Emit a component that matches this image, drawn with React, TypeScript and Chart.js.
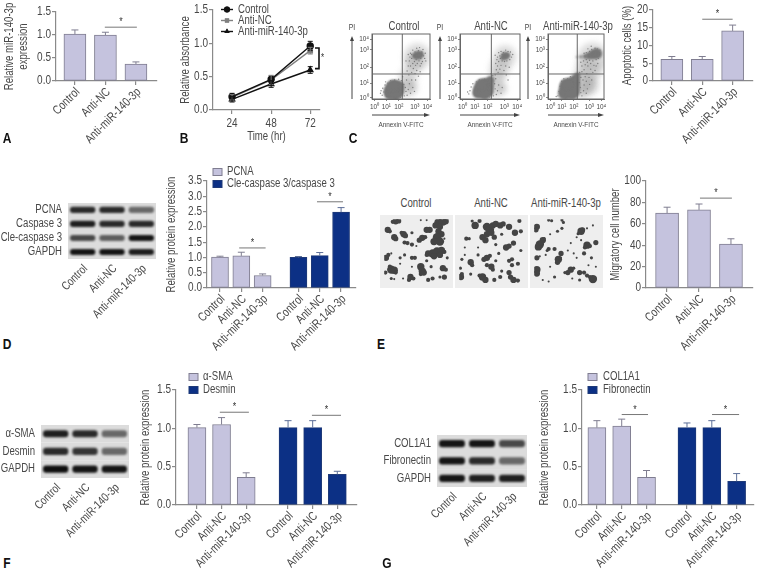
import React, { useEffect, useRef } from "react";
import { Chart, registerables } from "chart.js";
import { drawPoint } from "chart.js/helpers";

Chart.register(...registerables);

const FONT = '"Liberation Sans",Arial,sans-serif';
const NARROW = 0.8;
const INK = "#484848";
const AXIS = "#8a8a8a";
const LILAC = "#c5c3de";
const LILAC_EDGE = "#7f7d90";
const NAVY = "#0c3085";
const NAVY_EDGE = "#1f3a78";

// ---------- data ----------
const groups = ["Control", "Anti-NC", "Anti-miR-140-3p"];
const twoGroups = [...groups, ...groups];

const aValues = [1.02, 1.0, 0.37];
const aErrors = [0.09, 0.06, 0.045];

const hours = [24, 48, 72];
const bControl = [0.2, 0.46, 0.96];
const bControlErr = [0.05, 0.05, 0.07];
const bNC = [0.19, 0.45, 0.89];
const bNCErr = [0.04, 0.07, 0.05];
const bMiR = [0.16, 0.39, 0.6];
const bMiRErr = [0.04, 0.05, 0.05];

const cValues = [6.1, 6.1, 14.1];
const cErrors = [0.8, 0.8, 1.65];

const dPCNA = [1.01, 1.05, 0.41];
const dPCNAErr = [0.03, 0.12, 0.05];
const dCle = [1.0, 1.06, 2.48];
const dCleErr = [0.03, 0.1, 0.15];

const eValues = [70, 73, 41];
const eErrors = [5.5, 5.5, 5];

const fSMA = [1.01, 1.05, 0.36];
const fSMAErr = [0.04, 0.09, 0.06];
const fDesmin = [1.01, 1.01, 0.4];
const fDesminErr = [0.09, 0.09, 0.04];

const gCOL = [1.01, 1.03, 0.36];
const gCOLErr = [0.09, 0.09, 0.09];
const gFib = [1.01, 1.01, 0.31];
const gFibErr = [0.06, 0.09, 0.1];

const blotDRows = ["PCNA", "Caspase 3", "Cle-caspase 3", "GAPDH"];
const blotDDensity = [[0.85, 0.85, 0.55], [0.9, 0.85, 0.85], [0.7, 0.6, 0.95], [0.95, 0.95, 0.9]];
const blotFRows = ["α-SMA", "Desmin", "GAPDH"];
const blotFDensity = [[0.9, 0.85, 0.55], [0.85, 0.8, 0.55], [0.98, 0.95, 0.95]];
const blotGRows = ["COL1A1", "Fibronectin", "GAPDH"];
const blotGDensity = [[0.95, 0.95, 0.7], [0.95, 0.85, 0.55], [0.95, 0.9, 0.9]];

const flowTicks = ["10⁰", "10¹", "10²", "10³", "10⁴"];

const flowControlHalo = [[800,670,13],[740,560,9],[640,350,9],[590,170,9],[700,180,6]];
const flowControlCore = [[394,144,9.5],[440,190,6.5],[330,120,7],[450,110,6],[300,70,4.5],[420,70,5],[500,210,3.5],[370,210,6],[814,688,4.5],[760,680,3],[860,700,3]];
const flowControlDots = [[180,60],[210,110],[190,170],[230,220],[260,40],[280,250],[330,290],[380,30],[400,300],[470,310],[520,290],[560,230],[590,180],[600,120],[620,60],[570,50],[640,150],[660,240],[610,300],[540,350],[500,25],[160,130],[150,90],[240,270],[680,90],[720,180],[700,300],[750,120],[650,380],[700,420],[620,440],[730,480],[680,520],[760,400],[790,450],[640,520],[820,360],[770,300],[850,430],[600,600],[660,600],[640,700],[680,720],[700,640],[720,770],[750,590],[760,740],[780,620],[800,560],[790,800],[820,760],[830,600],[850,520],[860,640],[880,740],[890,590],[910,680],[900,780],[930,640],[740,680],[700,700],[670,660],[840,810],[770,530],[720,560],[870,560],[950,600],[940,720]];
const flowNCHalo = [[770,670,11],[680,500,10],[640,350,8],[600,170,9],[720,160,5]];
const flowNCCore = [[400,173,9.5],[460,220,7],[340,130,7],[470,120,6],[300,90,5],[420,80,5.5],[520,300,4],[370,230,5.5],[768,677,4],[810,690,2.5],[725,650,2.2]];
const flowNCDots = [[150,80],[170,130],[190,190],[220,240],[260,60],[280,270],[330,300],[380,35],[420,310],[560,370],[590,240],[600,160],[620,70],[570,50],[640,130],[660,220],[610,320],[530,400],[500,30],[130,110],[700,90],[720,180],[600,380],[650,420],[620,460],[680,470],[640,520],[700,530],[610,560],[660,590],[720,600],[750,450],[780,520],[690,640],[640,660],[600,690],[660,730],[700,750],[740,730],[780,770],[820,750],[860,740],[880,660],[850,620],[800,600],[760,590],[900,700],[720,700],[680,680],[630,620],[790,380],[820,300],[840,500]];
const flowMiRHalo = [[820,650,15],[740,450,13],[650,260,12],[780,200,8],[620,130,8]];
const flowMiRCore = [[390,170,10.5],[470,260,6.5],[510,330,4],[300,90,6.5],[450,100,6.5],[330,230,5.5],[540,380,2.5],[890,715,5.5],[820,700,4.5],[750,680,3.5],[680,670,2.4],[600,665,1.5],[530,662,1]];
const flowMiRDots = [[180,50],[200,120],[220,200],[250,280],[290,320],[150,40],[360,320],[410,350],[570,260],[590,180],[600,100],[620,50],[650,130],[660,220],[640,300],[700,90],[720,160],[760,230],[700,280],[680,350],[600,340],[580,420],[620,430],[660,460],[710,400],[750,340],[800,300],[820,420],[780,470],[730,520],[680,540],[620,520],[600,580],[650,600],[700,620],[760,610],[820,600],[880,620],[920,640],[940,700],[950,770],[900,790],[860,800],[800,780],[760,750],[700,730],[660,720],[840,530],[880,520],[860,450],[910,560],[780,560],[720,580],[790,830],[730,790]];

const micrographControl = [[45,16,3],[35,18,2],[55,15,2.5],[150,12,1],[130,12,1],[190,20,4],[205,17,4],[215,16,3],[180,30,3],[195,35,3],[190,50,3],[200,60,3],[185,70,4],[195,85,4],[175,85,3.5],[160,45,3],[150,45,3],[18,45,3],[25,50,2],[40,70,3],[45,75,2.5],[65,55,2],[72,60,3],[78,65,2.5],[100,55,1.5],[125,80,2.5],[135,72,3],[145,70,2],[100,95,2],[85,90,2],[75,88,2],[115,100,1],[210,75,1],[170,125,4],[185,118,4],[200,115,3.5],[155,125,3],[195,130,3],[175,135,3],[150,130,2],[210,120,2],[100,140,2],[110,140,2],[20,130,2],[12,140,3],[30,125,1],[60,140,1.5],[75,130,1.5],[30,180,4],[40,182,3.5],[25,170,2],[45,190,2],[130,170,3.5],[135,185,3.5],[130,195,2],[140,190,3],[95,205,3],[90,215,2],[105,210,2],[30,210,1.5],[40,212,1],[205,175,3],[215,180,2],[210,205,2.5],[195,205,1.5],[170,210,2],[155,215,2],[165,170,1.5],[70,210,1],[60,160,1],[100,170,1],[10,190,2],[150,150,1.5],[220,140,1.5]];
const micrographNC = [[60,30,3.5],[75,15,2],[50,15,1.5],[100,35,4],[110,45,4],[120,30,3],[130,25,3],[145,30,3],[155,25,2.5],[175,35,3],[195,55,3],[210,15,2],[215,50,2],[100,60,3],[85,70,3],[95,80,3],[115,55,3],[125,70,2.5],[165,105,3],[175,100,2.5],[190,90,2.5],[130,95,1.5],[30,75,2],[40,75,1.5],[150,60,1.5],[25,130,1],[70,130,1.5],[100,140,3],[90,145,2.5],[110,133,2],[45,155,3],[50,165,2],[15,145,1.5],[185,145,2],[175,150,2],[185,165,2],[205,160,2],[100,165,2],[115,170,3],[130,150,1.5],[120,180,2],[150,185,1.5],[10,175,1.5],[12,205,3],[15,195,2],[85,205,3.5],[95,215,3],[75,200,2],[125,215,2],[145,205,2],[175,190,2.5],[180,205,2.5],[190,215,3],[205,217,2],[45,195,1.5],[215,115,1.5],[25,105,1],[70,105,1],[140,125,1.5]];
const micrographMiR = [[15,35,3],[12,45,2.5],[55,12,1.5],[65,14,1.5],[100,12,1.5],[105,20,1.5],[100,40,1.5],[85,50,1.5],[165,50,3.5],[170,45,2.5],[155,58,1.5],[185,40,1],[205,30,1],[25,95,4],[20,103,3.5],[35,80,3],[30,90,2.5],[40,75,1.5],[60,60,1],[75,110,2],[55,110,2],[50,115,1.5],[185,97,3.5],[178,105,2],[195,100,2],[215,88,2.5],[165,80,1],[150,70,1],[130,90,1],[120,115,1],[140,125,1],[97,125,2.5],[88,145,3.5],[85,155,2.5],[95,140,1.5],[15,140,2.5],[25,135,1],[45,130,1],[175,125,2],[200,140,1.5],[150,140,1],[15,180,3.5],[15,193,3],[130,180,3],[120,190,2.5],[140,175,1.5],[110,190,1.5],[160,190,2.5],[175,190,2],[185,200,2],[205,212,4],[195,205,2],[75,205,1.5],[35,215,1],[55,220,1],[135,210,1],[160,215,1.5],[215,170,1],[190,165,1],[60,170,1]];

// ---------- layout helpers ----------
type Rect = { left: number; top: number; right: number; bottom: number };
type Made = { rect: Rect; config: any };

const font = (size: number, weight = "normal") => ({ family: FONT, size, weight, lineHeight: 1.15 });

const pad = (p: Rect, c: Rect) => ({
  left: 0,
  top: p.top - c.top,
  right: c.right - p.right,
  bottom: 0,
});

// The reference is set in a condensed face, which is not installed: squeeze text on this context.
function condense(ctx: any) {
  const fill = ctx.fillText.bind(ctx);
  const measure = ctx.measureText.bind(ctx);
  ctx.fillText = (s: string, x: number, y: number) => {
    ctx.save();
    ctx.translate(x, y);
    ctx.scale(NARROW, 1);
    fill(s, 0, 0);
    ctx.restore();
  };
  ctx.measureText = (s: string) => {
    const m = measure(s);
    return { width: m.width * NARROW, actualBoundingBoxAscent: m.actualBoundingBoxAscent, actualBoundingBoxDescent: m.actualBoundingBoxDescent };
  };
}

function valueAxis(min: number, max: number, step: number, digits: number, title: any, width: number, size = 12.5, titlePad = 0) {
  return {
    type: "linear",
    min,
    max,
    afterFit: (s: any) => { s.width = width; },
    afterBuildTicks: (s: any) => {
      const t = [];
      for (let i = 0; i <= Math.round((max - min) / step); i++) t.push({ value: min + i * step });
      s.ticks = t;
    },
    border: { color: AXIS, width: 1.2 },
    grid: { drawOnChartArea: false, drawTicks: true, tickLength: 4, color: AXIS, lineWidth: 1.2 },
    ticks: { color: INK, font: font(size), padding: 1, autoSkip: false, callback: (v: number) => v.toFixed(digits) },
    title: { display: true, text: title, color: INK, font: font(12), padding: { top: titlePad, bottom: 0 } },
  };
}

function slotAxis(slots: number[], labels: string[], min: number, max: number, height: number) {
  return {
    type: "linear",
    min,
    max,
    offset: false,
    afterFit: (s: any) => { s.height = height; },
    afterBuildTicks: (s: any) => { s.ticks = slots.map((value) => ({ value })); },
    border: { color: AXIS, width: 1.2 },
    grid: { drawOnChartArea: false, offset: false, drawTicks: true, tickLength: 4, color: AXIS, lineWidth: 1.2 },
    ticks: {
      color: INK,
      font: font(12.5),
      padding: 0,
      labelOffset: 3,
      autoSkip: false,
      minRotation: 45,
      maxRotation: 45,
      callback: (v: number) => labels[slots.indexOf(v)],
    },
  };
}

const errorBars = {
  id: "errorBars",
  afterDatasetsDraw(chart: any) {
    const { ctx } = chart;
    const y = chart.scales.y;
    const x = chart.scales.x;
    chart.data.datasets.forEach((d: any) => {
      if (!d.errors) return;
      ctx.save();
      ctx.strokeStyle = d.errorColor;
      ctx.lineWidth = d.errorWidth || 1;
      d.data.forEach((p: any, i: number) => {
        const px = x.getPixelForValue(p.x);
        const top = y.getPixelForValue(p.y + d.errors[i]);
        const bot = d.errorBoth ? y.getPixelForValue(p.y - d.errors[i]) : y.getPixelForValue(p.y);
        const cap = d.errorCap || 3.5;
        ctx.beginPath();
        ctx.moveTo(px, bot);
        ctx.lineTo(px, top);
        ctx.moveTo(px - cap, top);
        ctx.lineTo(px + cap, top);
        if (d.errorBoth) {
          ctx.moveTo(px - cap, bot);
          ctx.lineTo(px + cap, bot);
        }
        ctx.stroke();
      });
      ctx.restore();
    });
  },
};

const sigMarks = (marks: number[][]) => ({
  id: "sigMarks",
  afterDatasetsDraw(chart: any) {
    const { ctx } = chart;
    const { x, y } = chart.scales;
    ctx.save();
    marks.forEach(([from, to, value]) => {
      const py = y.getPixelForValue(value);
      const a = x.getPixelForValue(from);
      const b = x.getPixelForValue(to);
      ctx.strokeStyle = "#777";
      ctx.lineWidth = 1;
      ctx.beginPath();
      ctx.moveTo(a, py);
      ctx.lineTo(b, py);
      ctx.stroke();
      ctx.fillStyle = "#333";
      ctx.font = `11px ${FONT}`;
      ctx.textAlign = "center";
      ctx.textBaseline = "middle";
      ctx.fillText("*", (a + b) / 2, py - 5);
    });
    ctx.restore();
  },
});

const swatchLegend = (dx: number, dy: number[], tx: number) => ({
  id: "swatchLegend",
  afterDraw(chart: any) {
    const { ctx } = chart;
    ctx.save();
    chart.data.datasets.forEach((d: any, i: number) => {
      ctx.fillStyle = d.backgroundColor;
      ctx.strokeStyle = d.borderColor;
      ctx.lineWidth = 1;
      ctx.fillRect(dx, dy[i] - 3.5, 9, 7);
      ctx.strokeRect(dx, dy[i] - 3.5, 9, 7);
      ctx.fillStyle = INK;
      ctx.font = `12px ${FONT}`;
      ctx.textBaseline = "middle";
      ctx.textAlign = "left";
      ctx.fillText(d.label, tx, dy[i]);
    });
    ctx.restore();
  },
});

function barPanel(o: {
  plot: Rect; canvas: Rect; slots: number[]; labels: string[]; min: number; max: number; thickness: number;
  yMax: number; step: number; digits: number; title: any; titlePad?: number;
  series: { label?: string; values: number[]; errors: number[]; navy?: boolean }[];
  marks: number[][]; legend?: { dx: number; dy: number[]; tx: number };
}): Made {
  let k = 0;
  const datasets = o.series.map((s) => ({
    label: s.label,
    data: s.values.map((v) => ({ x: o.slots[k++], y: v })),
    backgroundColor: s.navy ? NAVY : LILAC,
    borderColor: s.navy ? NAVY_EDGE : LILAC_EDGE,
    borderWidth: 1,
    borderSkipped: false,
    barThickness: o.thickness,
    grouped: false,
    errors: s.errors,
    errorColor: s.navy ? "#5d6f98" : LILAC_EDGE,
  }));
  const plugins: any[] = [errorBars, sigMarks(o.marks)];
  if (o.legend) plugins.push(swatchLegend(o.legend.dx, o.legend.dy, o.legend.tx));
  return {
    rect: o.canvas,
    config: {
      type: "bar",
      data: { datasets },
      plugins,
      options: {
        responsive: false,
        animation: false,
        layout: { padding: pad(o.plot, o.canvas) },
        plugins: { legend: { display: false }, tooltip: { enabled: false } },
        scales: {
          x: slotAxis(o.slots, o.labels, o.min, o.max, o.canvas.bottom - o.plot.bottom),
          y: valueAxis(0, o.yMax, o.step, o.digits, o.title, o.plot.left - o.canvas.left, 12.5, o.titlePad || 0),
        },
      },
    },
  };
}

const bandBlur = {
  id: "bandBlur",
  beforeDatasetDraw(chart: any, args: any) {
    chart.ctx.save();
    chart.ctx.filter = args.index === 0 ? "none" : "blur(1.3px)";
  },
  afterDatasetDraw(chart: any) {
    chart.ctx.restore();
  },
};

function blotPanel(plot: Rect, canvas: Rect, rows: string[], density: number[][], rowHeight: number, band: number): Made {
  const datasets: any[] = [
    {
      data: rows.map(() => [0, 3]),
      backgroundColor: "#dcdcdc",
      barThickness: rowHeight,
      grouped: false,
      order: 2,
    },
  ];
  groups.forEach((_, lane) => {
    datasets.push({
      data: rows.map(() => [lane + 0.08, lane + 0.92]),
      backgroundColor: density.map((r) => `rgba(10,10,10,${r[lane]})`),
      barThickness: band,
      borderRadius: 3,
      borderSkipped: false,
      grouped: false,
      order: 1,
    });
  });
  return {
    rect: canvas,
    config: {
      type: "bar",
      data: { labels: rows, datasets },
      plugins: [bandBlur],
      options: {
        indexAxis: "y",
        responsive: false,
        animation: false,
        layout: { padding: pad(plot, canvas) },
        plugins: { legend: { display: false }, tooltip: { enabled: false } },
        scales: {
          x: (() => {
            const a: any = slotAxis([0.5, 1.5, 2.5], groups, 0, 3, canvas.bottom - plot.bottom);
            a.border = { display: false };
            a.grid = { display: false, drawTicks: false };
            a.ticks.padding = 3;
            a.ticks.font = font(12);
            return a;
          })(),
          y: {
            type: "category",
            afterFit: (s: any) => { s.width = plot.left - canvas.left; },
            border: { display: false },
            grid: { display: false, drawTicks: false },
            ticks: { color: INK, font: font(12), padding: 6, autoSkip: false },
          },
        },
      },
    },
  };
}

const flowFrame = {
  id: "flowFrame",
  beforeDatasetDraw(chart: any, args: any) {
    chart.ctx.save();
    chart.ctx.filter = args.index === 2 ? "blur(3px)" : args.index === 0 ? "blur(1px)" : "none";
  },
  afterDatasetDraw(chart: any) {
    chart.ctx.restore();
  },
  afterDraw(chart: any) {
    const { ctx, chartArea: a } = chart;
    const { x, y } = chart.scales;
    const gx = x.getPixelForValue(535);
    const gy = y.getPixelForValue(394);
    ctx.save();
    ctx.strokeStyle = "#666";
    ctx.lineWidth = 1;
    ctx.strokeRect(a.left, a.top, a.right - a.left, a.bottom - a.top);
    ctx.beginPath();
    ctx.moveTo(gx, a.top);
    ctx.lineTo(gx, a.bottom);
    ctx.moveTo(a.left, gy);
    ctx.lineTo(a.right, gy);
    ctx.stroke();
    // PI arrow
    const ax = a.left - 20;
    ctx.strokeStyle = "#444";
    ctx.fillStyle = "#444";
    ctx.beginPath();
    ctx.moveTo(ax, a.bottom);
    ctx.lineTo(ax, a.top + 4);
    ctx.stroke();
    ctx.beginPath();
    ctx.moveTo(ax - 2, a.top + 7);
    ctx.lineTo(ax + 2, a.top + 7);
    ctx.lineTo(ax, a.top + 2);
    ctx.fill();
    ctx.font = `8.5px ${FONT}`;
    ctx.textAlign = "center";
    ctx.textBaseline = "middle";
    ctx.fillText("PI", ax, a.top - 6);
    // Annexin arrow
    const ay = a.bottom + 16;
    ctx.beginPath();
    ctx.moveTo(a.left, ay);
    ctx.lineTo(a.right - 3, ay);
    ctx.stroke();
    ctx.beginPath();
    ctx.moveTo(a.right - 6, ay - 2);
    ctx.lineTo(a.right - 6, ay + 2);
    ctx.lineTo(a.right, ay);
    ctx.fill();
    ctx.restore();
  },
};

function flowAxis(axis: "x" | "y", ticks: number[], size: number, title?: string) {
  return {
    type: "linear",
    min: 0,
    max: 1024,
    afterFit: (s: any) => { if (axis === "x") s.height = size; else s.width = size; },
    afterBuildTicks: (s: any) => { s.ticks = ticks.map((value) => ({ value })); },
    border: { color: "#666", width: 1 },
    grid: { drawOnChartArea: false, drawTicks: true, tickLength: 2, color: "#666", lineWidth: 0.8 },
    ticks: {
      color: INK,
      font: font(8),
      padding: 1,
      autoSkip: false,
      maxRotation: 0,
      minRotation: 0,
      callback: (v: number) => flowTicks[ticks.indexOf(v)],
    },
    title: title ? { display: true, text: title, color: INK, font: font(8), padding: { top: 0, bottom: 0 } } : { display: false },
  };
}

function flowPanel(plotLeft: number, halo: number[][], core: number[][], dots: number[][]): Made {
  const plot = { left: plotLeft, top: 34, right: plotLeft + 65, bottom: 99 };
  const canvas = { left: plotLeft - 27, top: 18, right: plotLeft + 71, bottom: 129 };
  return {
    rect: canvas,
    config: {
      type: "bubble",
      data: {
        datasets: [
          { data: core.map(([x, y, r]) => ({ x, y, r })), backgroundColor: "#767676", borderWidth: 0 },
          { data: dots.map(([x, y]) => ({ x, y, r: 0.7 })), backgroundColor: "rgba(105,105,105,0.8)", borderWidth: 0 },
          { data: halo.map(([x, y, r]) => ({ x, y, r })), backgroundColor: "rgba(130,130,130,0.3)", borderWidth: 0 },
        ],
      },
      plugins: [flowFrame],
      options: {
        responsive: false,
        animation: false,
        layout: { padding: pad(plot, canvas) },
        plugins: { legend: { display: false }, tooltip: { enabled: false } },
        scales: {
          x: flowAxis("x", [47, 252, 473, 756, 977], canvas.bottom - plot.bottom, "Annexin V-FITC"),
          y: flowAxis("y", [16, 252, 504, 772, 945], plot.left - canvas.left),
        },
      },
    },
  };
}

function micrographPanel(left: number, blobs: number[][]): Made {
  const canvas = { left, top: 215, right: left + 73, bottom: 288 };
  const plug = {
    id: "softEdge",
    beforeDatasetsDraw(c: any) { c.ctx.save(); c.ctx.filter = "blur(0.7px)"; },
    afterDatasetsDraw(c: any) { c.ctx.restore(); },
    beforeDraw(c: any) { c.ctx.save(); c.ctx.fillStyle = "#eeeeee"; c.ctx.fillRect(0, 0, c.width, c.height); c.ctx.restore(); },
  };
  return {
    rect: canvas,
    config: {
      type: "bubble",
      data: { datasets: [{ data: blobs.map(([x, y, r]) => ({ x, y, r: r * 1.05 })), backgroundColor: "#444", borderWidth: 0 }] },
      plugins: [plug],
      options: {
        responsive: false,
        animation: false,
        layout: { padding: 0 },
        plugins: { legend: { display: false }, tooltip: { enabled: false } },
        scales: {
          x: { type: "linear", display: false, min: 6, max: 225 },
          y: { type: "linear", display: false, min: 9, max: 228, reverse: true },
        },
      },
    },
  };
}

function linePanel(): Made {
  const plot = { left: 213, top: 10, right: 320, bottom: 110 };
  const canvas = { left: 179, top: 0, right: 335, bottom: 144 };
  const series = [
    { label: "Control", values: bControl, errors: bControlErr, style: "circle", color: "#111" },
    { label: "Anti-NC", values: bNC, errors: bNCErr, style: "rect", color: "#808080" },
    { label: "Anti-miR-140-3p", values: bMiR, errors: bMiRErr, style: "triangle", color: "#111" },
  ];
  const datasets = series.map((s) => ({
    label: s.label,
    data: s.values.map((v, i) => ({ x: hours[i], y: v })),
    borderColor: s.color,
    backgroundColor: s.color,
    borderWidth: 1.4,
    tension: 0,
    pointStyle: s.style,
    pointRadius: 3,
    errors: s.errors,
    errorColor: s.color,
    errorBoth: true,
    errorCap: 2.5,
  }));
  const legendAndBracket = {
    id: "legendAndBracket",
    afterDraw(chart: any) {
      const { ctx } = chart;
      const ys = [9.5, 20.5, 31.5];
      ctx.save();
      chart.data.datasets.forEach((d: any, i: number) => {
        ctx.strokeStyle = d.borderColor;
        ctx.fillStyle = d.borderColor;
        ctx.lineWidth = 1.4;
        ctx.beginPath();
        ctx.moveTo(221 - canvas.left, ys[i]);
        ctx.lineTo(233 - canvas.left, ys[i]);
        ctx.stroke();
        drawPoint(ctx, { pointStyle: d.pointStyle, radius: 3, rotation: 0, borderWidth: 0 }, 227 - canvas.left, ys[i]);
        ctx.fill();
        ctx.fillStyle = INK;
        ctx.font = `12px ${FONT}`;
        ctx.textAlign = "left";
        ctx.textBaseline = "middle";
        ctx.fillText(d.label, 238 - canvas.left, ys[i]);
      });
      const bx = chart.chartArea.right - 1;
      const t = chart.scales.y.getPixelForValue(0.93);
      const b = chart.scales.y.getPixelForValue(0.62);
      ctx.strokeStyle = "#111";
      ctx.lineWidth = 1.6;
      ctx.beginPath();
      ctx.moveTo(bx - 4, t);
      ctx.lineTo(bx, t);
      ctx.lineTo(bx, b);
      ctx.lineTo(bx - 4, b);
      ctx.stroke();
      ctx.fillStyle = "#333";
      ctx.font = `10px ${FONT}`;
      ctx.textAlign = "center";
      ctx.fillText("*", bx + 3.5, (t + b) / 2);
      ctx.restore();
    },
  };
  const xAxis: any = {
    type: "linear",
    min: 12.3,
    max: 78,
    afterFit: (s: any) => { s.height = canvas.bottom - plot.bottom; },
    afterBuildTicks: (s: any) => { s.ticks = hours.map((value) => ({ value })); },
    border: { color: AXIS, width: 1.2 },
    grid: { drawOnChartArea: false, drawTicks: true, tickLength: 4, color: AXIS, lineWidth: 1.2 },
    ticks: { color: INK, font: font(12.5), padding: 2, maxRotation: 0, minRotation: 0 },
    title: { display: true, text: "Time (hr)", color: INK, font: font(12), padding: { top: 0, bottom: 0 } },
  };
  return {
    rect: canvas,
    config: {
      type: "line",
      data: { datasets },
      plugins: [errorBars, legendAndBracket],
      options: {
        responsive: false,
        animation: false,
        layout: { padding: pad(plot, canvas) },
        plugins: { legend: { display: false }, tooltip: { enabled: false } },
        scales: { x: xAxis, y: valueAxis(0, 1.5, 0.5, 1, "Relative absorbance", plot.left - canvas.left) },
      },
    },
  };
}

const threeSlots = [0, 1, 2];

const panels: Made[] = [
  barPanel({
    plot: { left: 56, top: 12, right: 157, bottom: 81 }, canvas: { left: 0, top: 0, right: 161, bottom: 150 },
    slots: threeSlots, labels: groups, min: -0.62, max: 2.69, thickness: 22, yMax: 1.5, step: 0.5, digits: 1,
    title: ["Relative miR-140-3p", "expression"], titlePad: 3,
    series: [{ values: aValues, errors: aErrors }], marks: [[0.98, 2.03, 1.17]],
  }),
  linePanel(),
  flowPanel(372, flowControlHalo, flowControlCore, flowControlDots),
  flowPanel(460, flowNCHalo, flowNCCore, flowNCDots),
  flowPanel(548, flowMiRHalo, flowMiRCore, flowMiRDots),
  barPanel({
    plot: { left: 653, top: 10, right: 753, bottom: 81 }, canvas: { left: 621, top: 0, right: 757, bottom: 152 },
    slots: threeSlots, labels: groups, min: -0.62, max: 2.67, thickness: 22, yMax: 20, step: 5, digits: 0,
    title: "Apoptotic cells (%)",
    series: [{ values: cValues, errors: cErrors }], marks: [[1.0, 2.0, 17.4]],
  }),
  blotPanel({ left: 68, top: 199, right: 156, bottom: 259 }, { left: 0, top: 190, right: 162, bottom: 325 }, blotDRows, blotDDensity, 13.5, 5.5),
  barPanel({
    plot: { left: 207, top: 181, right: 356, bottom: 288 }, canvas: { left: 165, top: 160, right: 362, bottom: 352 },
    slots: [0, 1, 2, 3.68, 4.68, 5.68], labels: twoGroups, min: -0.61, max: 6.38, thickness: 17, yMax: 3.5, step: 0.5, digits: 1,
    title: "Relative protein expression",
    series: [
      { label: "PCNA", values: dPCNA, errors: dPCNAErr },
      { label: "Cle-caspase 3/caspase 3", values: dCle, errors: dCleErr, navy: true },
    ],
    marks: [[0.9, 2.14, 1.31], [4.55, 5.77, 2.82]], legend: { dx: 48, dy: [12, 24], tx: 62 },
  }),
  micrographPanel(380, micrographControl),
  micrographPanel(455, micrographNC),
  micrographPanel(530, micrographMiR),
  barPanel({
    plot: { left: 646, top: 181, right: 753, bottom: 288 }, canvas: { left: 609, top: 170, right: 757, bottom: 352 },
    slots: threeSlots, labels: groups, min: -0.66, max: 2.69, thickness: 23, yMax: 100, step: 20, digits: 0,
    title: "Migratory cell number",
    series: [{ values: eValues, errors: eErrors }], marks: [[1.03, 2.03, 84]],
  }),
  blotPanel({ left: 41, top: 421, right: 129, bottom: 478 }, { left: 0, top: 412, right: 135, bottom: 548 }, blotFRows, blotFDensity, 17, 6.5),
  barPanel({
    plot: { left: 176, top: 390, right: 357, bottom: 505 }, canvas: { left: 139, top: 370, right: 362, bottom: 569 },
    slots: [0, 1, 2, 3.7, 4.7, 5.7], labels: twoGroups, min: -0.85, max: 6.5, thickness: 18, yMax: 1.5, step: 0.5, digits: 1,
    title: "Relative protein expression",
    series: [
      { label: "α-SMA", values: fSMA, errors: fSMAErr },
      { label: "Desmin", values: fDesmin, errors: fDesminErr, navy: true },
    ],
    marks: [[0.93, 2.11, 1.21], [4.67, 5.85, 1.17]], legend: { dx: 50, dy: [7, 20], tx: 64 },
  }),
  blotPanel({ left: 437, top: 431, right: 527, bottom: 487 }, { left: 380, top: 422, right: 532, bottom: 558 }, blotGRows, blotGDensity, 17, 6.5),
  barPanel({
    plot: { left: 582, top: 390, right: 754, bottom: 505 }, canvas: { left: 538, top: 370, right: 757, bottom: 569 },
    slots: [0, 1, 2, 3.63, 4.63, 5.63], labels: twoGroups, min: -0.6, max: 6.33, thickness: 18, yMax: 1.5, step: 0.5, digits: 1,
    title: "Relative protein expression",
    series: [
      { label: "COL1A1", values: gCOL, errors: gCOLErr },
      { label: "Fibronectin", values: gFib, errors: gFibErr, navy: true },
    ],
    marks: [[1.0, 2.06, 1.18], [4.64, 5.73, 1.18]], legend: { dx: 50, dy: [7, 20], tx: 65 },
  }),
];

const notes: { text: string; x: number; y: number; size: number; bold?: boolean }[] = [
  { text: "A", x: 7, y: 137, size: 15, bold: true },
  { text: "B", x: 184, y: 137, size: 15, bold: true },
  { text: "C", x: 353, y: 137, size: 15, bold: true },
  { text: "D", x: 7, y: 343, size: 15, bold: true },
  { text: "E", x: 381, y: 343, size: 15, bold: true },
  { text: "F", x: 7, y: 562, size: 15, bold: true },
  { text: "G", x: 387, y: 562, size: 15, bold: true },
  { text: "Control", x: 404, y: 26, size: 12 },
  { text: "Anti-NC", x: 491, y: 26, size: 12 },
  { text: "Anti-miR-140-3p", x: 578, y: 26, size: 12 },
  { text: "Control", x: 416, y: 203, size: 12 },
  { text: "Anti-NC", x: 491, y: 203, size: 12 },
  { text: "Anti-miR-140-3p", x: 566, y: 203, size: 12 },
];

function Panel({ made }: { made: Made }) {
  const ref = useRef<HTMLCanvasElement>(null);
  const { rect, config } = made;
  useEffect(() => {
    const canvas = ref.current as HTMLCanvasElement;
    condense(canvas.getContext("2d"));
    const chart = new Chart(canvas, config);
    return () => chart.destroy();
  }, []);
  return (
    <canvas
      ref={ref}
      width={rect.right - rect.left}
      height={rect.bottom - rect.top}
      style={{ position: "absolute", left: rect.left, top: rect.top, width: rect.right - rect.left, height: rect.bottom - rect.top }}
    />
  );
}

export default function App() {
  return (
    <div style={{ position: "fixed", left: 0, top: 0, width: 757, height: 569, background: "#fff", overflow: "hidden" }}>
      {panels.map((made, i) => <Panel key={i} made={made} />)}
      {notes.map((n, i) => (
        <span
          key={i}
          style={{
            position: "absolute", left: n.x, top: n.y, transform: `translate(-50%,-50%) scaleX(${NARROW})`, whiteSpace: "nowrap",
            fontFamily: FONT, fontSize: n.size, fontWeight: n.bold ? 700 : 400, color: n.bold ? "#111" : INK,
          }}
        >
          {n.text}
        </span>
      ))}
    </div>
  );
}
